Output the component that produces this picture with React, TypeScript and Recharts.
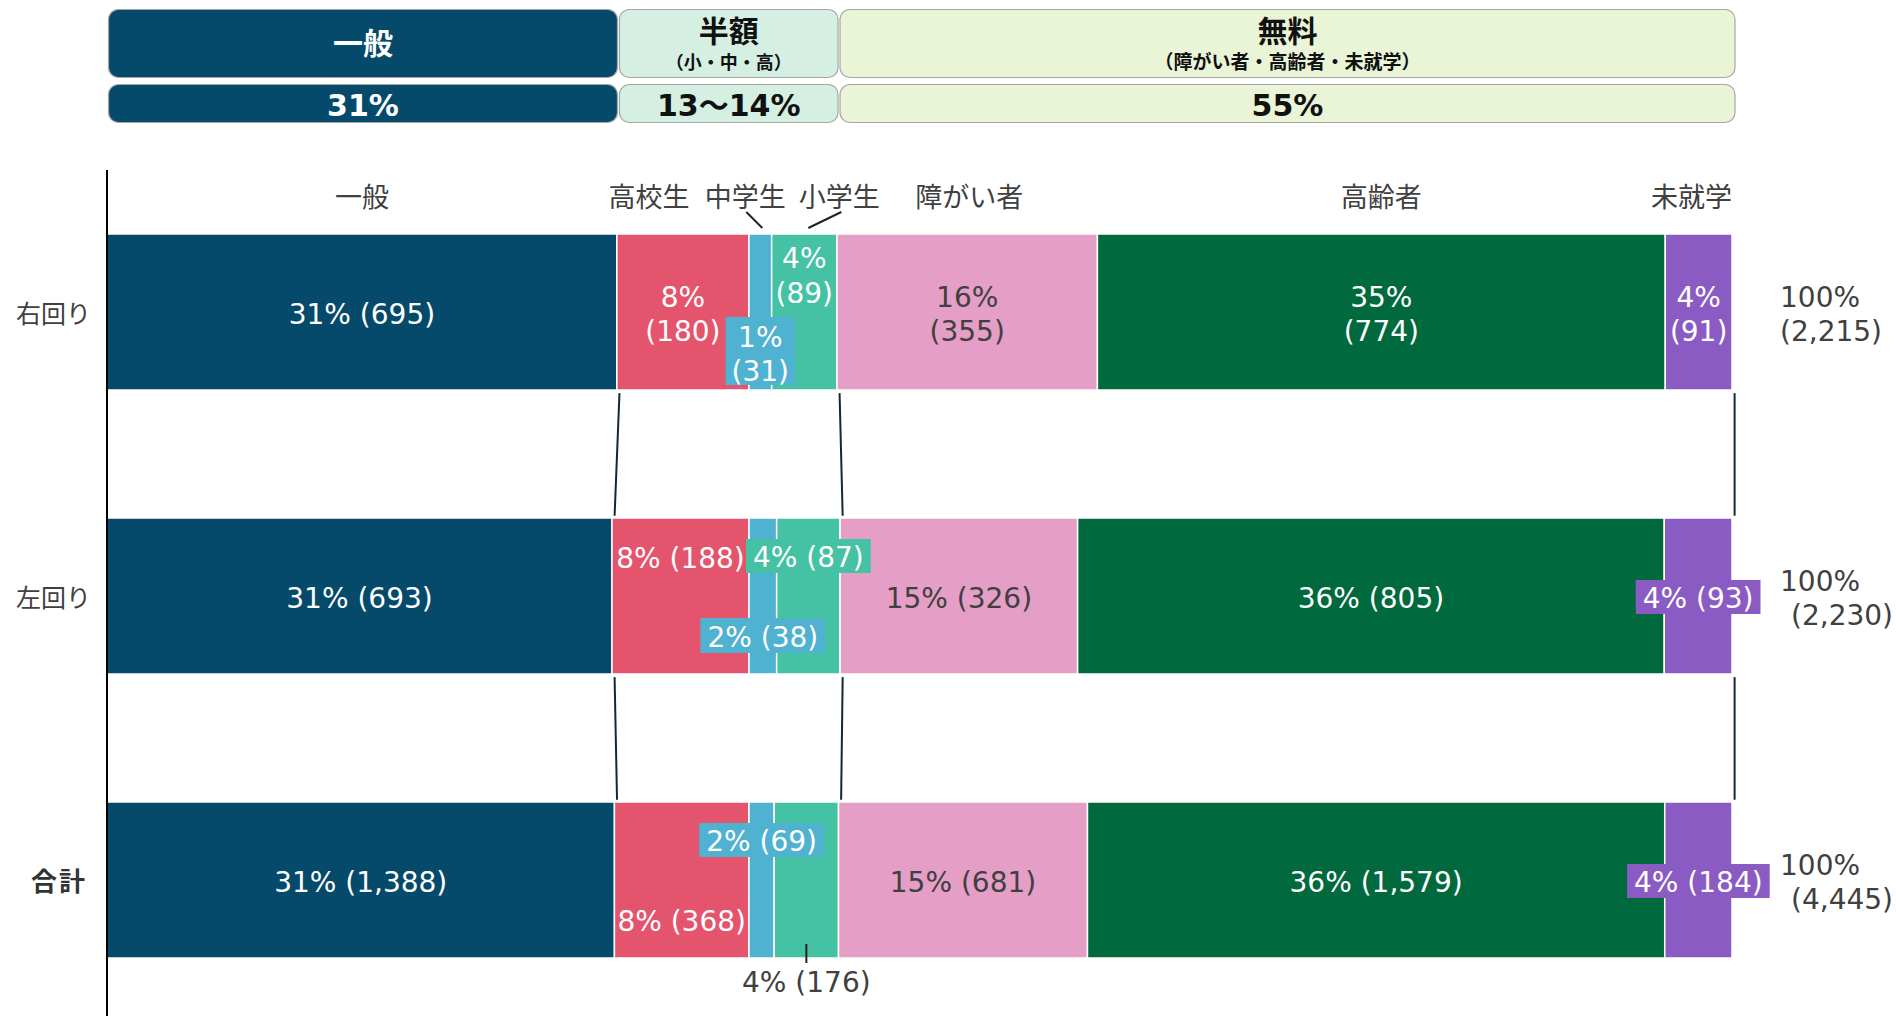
import { BarChart, Bar, XAxis, YAxis, LabelList, ReferenceLine } from 'recharts'

const ROWS = ['右回り', '左回り', '合計']
const CATEGORIES = ['一般', '高校生', '中学生', '小学生', '障がい者', '高齢者', '未就学']
const RIGHT_LOOP = [695, 180, 31, 89, 355, 774, 91]
const LEFT_LOOP = [693, 188, 38, 87, 326, 805, 93]
const TOTAL = [1388, 368, 69, 176, 681, 1579, 184]
const COLORS = ['#064a6b', '#e5546d', '#4fb2d0', '#45c2a3', '#e59ec6', '#00693e', '#8b5bc4']

const GROUPS = ['一般', '半額', '無料']
const GROUP_SUBTITLES = ['', '（小・中・高）', '（障がい者・高齢者・未就学）']
const GROUP_SHARES = ['31%', '13～14%', '55%']
const GROUP_OF = [0, 1, 1, 1, 2, 2, 2]
const GROUP_FILLS = ['#064a6b', '#d5f0e2', '#eaf5d7']
const SUBTITLE_SIZE = [18, 18, 19]

const COUNTS = [RIGHT_LOOP, LEFT_LOOP, TOTAL]
const ROW_TOTALS = COUNTS.map(c => c.reduce((a, b) => a + b, 0))

const rows = ROWS.map((row, r) => {
  const d: Record<string, number | string> = { row, pos: r }
  CATEGORIES.forEach((c, i) => { d[c] = COUNTS[r][i] })
  return d
})

const headerData = [
  GROUPS.reduce<Record<string, number | string>>((d, g, gi) => {
    d[g] = RIGHT_LOOP.filter((_, i) => GROUP_OF[i] === gi).reduce((a, b) => a + b, 0)
    return d
  }, { name: 'share' }),
]

// layout
const W = 1896
const H = 1030
const PLOT_TOP = 170
const PLOT_BOTTOM = 8
const PLOT_RIGHT = 164
const AXIS_W = 100
const BAR = 156
const BAND = (H - PLOT_TOP - PLOT_BOTTOM) / ROWS.length
const HALF = BAR / 2 / BAND
const LINK_AFTER = [0, 3, 6]
const NUDGE = 0.0016
const INK = '#404040'
const LABEL_FONT = 28

// label placement per category, one entry per row
const LABEL_MODE: Record<string, string[]> = {
  一般: ['line', 'line', 'line'],
  高校生: ['stack', 'top', 'bottom'],
  中学生: ['boxStack', 'boxBottom', 'boxTop'],
  小学生: ['stackTop', 'boxTop', 'below'],
  障がい者: ['stack', 'line', 'line'],
  高齢者: ['stack', 'line', 'line'],
  未就学: ['stack', 'box', 'box'],
}
const HEAD_DX: Record<string, number> = { 高校生: -34, 中学生: -15, 小学生: 35, 障がい者: 2, 未就学: -7 }
const LEADERS: Record<string, [number, number]> = { 中学生: [-14, 2], 小学生: [37, 4] }
const TOTAL_INDENT = [0, 11, 11]

const CHAR_W: Record<string, number> = { '%': 0.95, ' ': 0.318, '(': 0.39, ')': 0.39, ',': 0.318 }
const textWidth = (s: string, size: number) => [...s].reduce((a, ch) => a + (CHAR_W[ch] ?? 0.636), 0) * size

const cumShare = (r: number, k: number) =>
  COUNTS[r].slice(0, k + 1).reduce((a, b) => a + b, 0) / ROW_TOTALS[r]

function Txt({ x, y, fill = '#fff', size = LABEL_FONT, anchor = 'middle', weight = 400, children }: any) {
  return (
    <text x={x} y={y} fill={fill} fontSize={size} textAnchor={anchor} dominantBaseline="central" fontWeight={weight}>
      {children}
    </text>
  )
}

function segmentLabel(ci: number) {
  const cat = CATEGORIES[ci]
  return function SegmentLabel(props: any) {
    const vb = props.viewBox ?? props
    const x = Number(vb.x)
    const y = Number(vb.y)
    const w = Number(vb.width)
    const h = Number(vb.height)
    const r = typeof props.index === 'number'
      ? props.index
      : Math.round((y - PLOT_TOP - (BAND - BAR) / 2) / BAND)
    if (!COUNTS[r]) return null
    const count = COUNTS[r][ci]
    const pct = `${Math.round((count / ROW_TOTALS[r]) * 100)}%`
    const num = `(${count.toLocaleString('en-US')})`
    const one = `${pct} ${num}`
    const cx = x + w / 2
    const cy = y + h / 2
    const color = cat === '障がい者' ? INK : '#fff'
    const fill = COLORS[ci]
    const parts: any[] = []
    const boxW = (s: string) => textWidth(s, LABEL_FONT) + 14

    switch (LABEL_MODE[cat][r]) {
      case 'line':
        parts.push(<Txt key="t" x={cx} y={cy + 2} fill={color}>{one}</Txt>)
        break
      case 'stack':
        parts.push(<Txt key="a" x={cx} y={cy - 15} fill={color}>{pct}</Txt>)
        parts.push(<Txt key="b" x={cx} y={cy + 19} fill={color}>{num}</Txt>)
        break
      case 'stackTop':
        parts.push(<Txt key="a" x={cx} y={y + 24} fill={color}>{pct}</Txt>)
        parts.push(<Txt key="b" x={cx} y={y + 59} fill={color}>{num}</Txt>)
        break
      case 'boxStack': {
        const bw = Math.max(textWidth(pct, LABEL_FONT), textWidth(num, LABEL_FONT)) + 12
        parts.push(<rect key="r" x={cx - bw / 2} y={y + 83} width={bw} height={68} fill={fill} />)
        parts.push(<Txt key="a" x={cx} y={y + 103} fill={color}>{pct}</Txt>)
        parts.push(<Txt key="b" x={cx} y={y + 137} fill={color}>{num}</Txt>)
        break
      }
      case 'top':
        parts.push(<Txt key="t" x={cx} y={y + 40} fill={color}>{one}</Txt>)
        break
      case 'bottom':
        parts.push(<Txt key="t" x={cx} y={y + 119} fill={color}>{one}</Txt>)
        break
      case 'boxTop':
        parts.push(<rect key="r" x={cx - boxW(one) / 2} y={y + 21} width={boxW(one)} height={34} fill={fill} />)
        parts.push(<Txt key="t" x={cx} y={y + 39} fill={color}>{one}</Txt>)
        break
      case 'boxBottom':
        parts.push(<rect key="r" x={cx - boxW(one) / 2} y={y + 100} width={boxW(one)} height={35} fill={fill} />)
        parts.push(<Txt key="t" x={cx} y={y + 119} fill={color}>{one}</Txt>)
        break
      case 'box':
        parts.push(<rect key="r" x={cx - boxW(one) / 2} y={cy - 16} width={boxW(one)} height={34} fill={fill} />)
        parts.push(<Txt key="t" x={cx} y={cy + 2} fill={color}>{one}</Txt>)
        break
      case 'below':
        parts.push(<line key="l" x1={cx} x2={cx} y1={y + h - 14} y2={y + h + 5} stroke="#222" strokeWidth={2} />)
        parts.push(<Txt key="t" x={cx} y={y + h + 24} fill={INK}>{one}</Txt>)
        break
    }

    if (r === 0) {
      parts.push(<Txt key="head" x={cx + (HEAD_DX[cat] ?? 0)} y={y - 37} fill={INK} size={27}>{cat}</Txt>)
      const leader = LEADERS[cat]
      if (leader) {
        parts.push(
          <line key="lead" x1={cx + leader[0]} y1={y - 22} x2={cx + leader[1]} y2={y - 6} stroke="#222" strokeWidth={2} />
        )
      }
    }

    if (ci === CATEGORIES.length - 1) {
      const tx = x + w + 48
      parts.push(<Txt key="ta" x={tx} y={cy - 15} fill={INK} anchor="start">100%</Txt>)
      parts.push(
        <Txt key="tb" x={tx + TOTAL_INDENT[r]} y={cy + 19} fill={INK} anchor="start">
          {`(${ROW_TOTALS[r].toLocaleString('en-US')})`}
        </Txt>
      )
    }
    return <g>{parts}</g>
  }
}

function RowTick(props: any) {
  const { x, y, payload } = props
  const label = ROWS[payload.value]
  const bold = label === '合計'
  return (
    <text x={bold ? x - 4 : x} y={y + 2} textAnchor="end" dominantBaseline="central"
      fontSize={bold ? 26 : 25} fill={bold ? '#333' : INK} fontWeight={bold ? 700 : 400}
      letterSpacing={bold ? 2 : 0}>
      {label}
    </text>
  )
}

function StackChart({ overlay }: { overlay: boolean }) {
  return (
    <BarChart
      width={W}
      height={H}
      data={rows}
      layout="vertical"
      stackOffset="expand"
      barSize={BAR}
      margin={{ top: PLOT_TOP, right: PLOT_RIGHT, bottom: PLOT_BOTTOM, left: overlay ? 7 + AXIS_W : 7 }}
    >
      <XAxis type="number" hide domain={[0, 1]} />
      <YAxis
        type="number"
        dataKey="pos"
        domain={[-0.5, 2.5]}
        ticks={[0, 1, 2]}
        hide={overlay}
        width={AXIS_W}
        tickLine={false}
        tickSize={0}
        tickMargin={16}
        axisLine={{ stroke: '#000', strokeWidth: 2 }}
        tick={<RowTick />}
      />
      {CATEGORIES.map((c, i) => (
        <Bar
          key={c}
          dataKey={c}
          stackId="share"
          fill={overlay ? 'none' : COLORS[i]}
          stroke={overlay ? 'none' : '#fff'}
          strokeWidth={1.5}
          isAnimationActive={false}
        >
          {overlay && <LabelList dataKey={c} content={segmentLabel(i)} />}
        </Bar>
      ))}
      {!overlay &&
        [0, 1].flatMap(r =>
          LINK_AFTER.map(k => (
            <ReferenceLine
              key={`${r}-${k}`}
              ifOverflow="visible"
              stroke="#132838"
              strokeWidth={2}
              segment={[
                { x: cumShare(r, k) + NUDGE, y: r + HALF + 0.011 },
                { x: cumShare(r + 1, k) + NUDGE, y: r + 1 - HALF - 0.008 },
              ]}
            />
          ))
        )}
    </BarChart>
  )
}

const headerShape = (gi: number, kind: 'title' | 'share') => (p: any) => {
  const { x, y, width, height } = p
  const color = gi === 0 ? '#fff' : '#111'
  return (
    <g>
      <rect x={x + 1} y={y + 0.5} width={width - 2} height={height - 1} rx={10} ry={10}
        fill={GROUP_FILLS[gi]} stroke="#a6a6a6" strokeWidth={1.2} />
      {kind === 'share' ? (
        <Txt x={x + width / 2} y={y + 21} fill={color} size={30} weight={700}>{GROUP_SHARES[gi]}</Txt>
      ) : GROUP_SUBTITLES[gi] ? (
        <>
          <Txt x={x + width / 2} y={y + 22} fill={color} size={30} weight={700}>{GROUPS[gi]}</Txt>
          <Txt x={x + width / 2} y={y + 53} fill={color} size={SUBTITLE_SIZE[gi]} weight={700}>{GROUP_SUBTITLES[gi]}</Txt>
        </>
      ) : (
        <Txt x={x + width / 2} y={y + height / 2} fill={color} size={30} weight={700}>{GROUPS[gi]}</Txt>
      )}
    </g>
  )
}

// band is kept a bit taller than the bar so recharts keeps the exact barSize
const HEADER_PAD = 5

function HeaderStrip({ top, size, kind }: { top: number; size: number; kind: 'title' | 'share' }) {
  return (
    <div style={{ position: 'absolute', left: 0, top: top - 1 - HEADER_PAD }}>
      <BarChart
        width={W}
        height={size + 2 + HEADER_PAD * 2}
        data={headerData}
        layout="vertical"
        stackOffset="expand"
        barSize={size}
        margin={{ top: 1, right: 160, bottom: 1, left: 107.5 }}
      >
        <XAxis type="number" hide domain={[0, 1]} />
        <YAxis type="category" dataKey="name" hide />
        {GROUPS.map((g, gi) => (
          <Bar key={g} dataKey={g} stackId="head" isAnimationActive={false} shape={headerShape(gi, kind)} />
        ))}
      </BarChart>
    </div>
  )
}

export default function App() {
  return (
    <div
      style={{
        position: 'relative',
        width: W,
        height: 1016,
        overflow: 'hidden',
        background: '#fff',
        fontFamily: "'DejaVu Sans', 'Noto Sans CJK JP', sans-serif",
      }}
    >
      <style>{'html,body{margin:0;padding:0;overflow:hidden}'}</style>
      <div style={{ position: 'absolute', left: 0, top: 0 }}>
        <StackChart overlay={false} />
      </div>
      <div style={{ position: 'absolute', left: 0, top: 0, pointerEvents: 'none' }}>
        <StackChart overlay />
      </div>
      <HeaderStrip top={9} size={69} kind="title" />
      <HeaderStrip top={84} size={39} kind="share" />
    </div>
  )
}
